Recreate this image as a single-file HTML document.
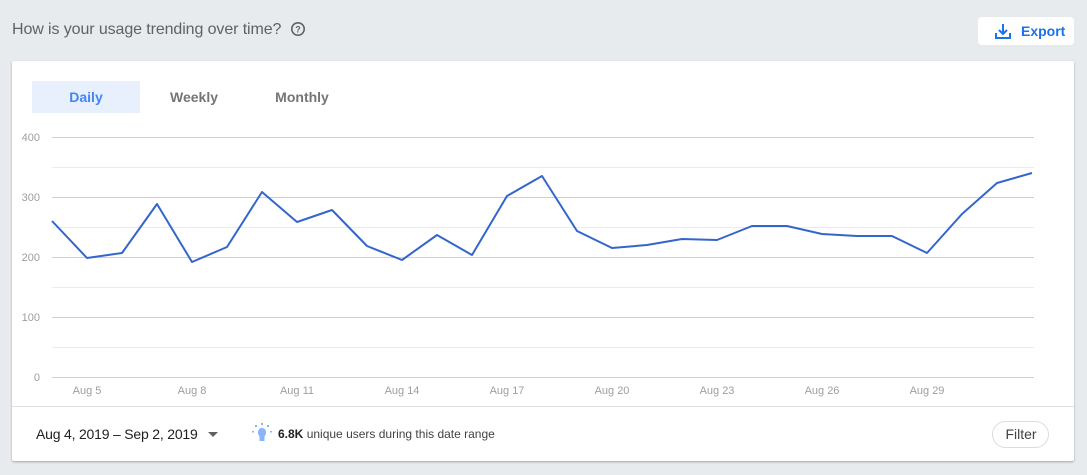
<!DOCTYPE html>
<html><head><style>
body{margin:0;width:1087px;height:475px;background:#e8ebee;font-family:"Liberation Sans",sans-serif;position:relative;overflow:hidden}
.t{position:absolute;left:12px;top:21px;font-size:16px;color:#616161;letter-spacing:-0.1px}
.exp{position:absolute;left:978px;top:17px;width:96px;height:28px;background:#fff;border-radius:4px;color:#1a73e8;font-size:14px;font-weight:bold}
.card{position:absolute;left:12px;top:61px;width:1062px;height:400px;background:#fff;border-radius:2px;box-shadow:0 1px 2px rgba(0,0,0,.3)}
.tab{position:absolute;top:81px;height:32px;line-height:32px;font-size:14px;font-weight:bold;color:#757575;text-align:center}
</style></head><body>
<div class="t">How is your usage trending over time?
<svg width="16" height="16" style="vertical-align:-3px;margin-left:4px" viewBox="0 0 16 16"><circle cx="8" cy="8" r="6.2" fill="none" stroke="#616161" stroke-width="1.6"/><text x="8" y="11.5" font-size="9" font-weight="bold" text-anchor="middle" fill="#616161" font-family="Liberation Sans">?</text></svg></div>
<div class="exp"><svg width="20" height="20" style="position:absolute;left:15px;top:4px" viewBox="0 0 20 20"><path d="M3 12v5h14v-5" fill="none" stroke="#1a73e8" stroke-width="2"/><path d="M10 3v10M6 9l4 4 4-4" fill="none" stroke="#1a73e8" stroke-width="2"/></svg><span style="position:absolute;left:43px;top:6px">Export</span></div>
<div class="card"></div>
<div class="tab" style="left:32px;width:108px;background:#e8f0fe;color:#4285f4">Daily</div>
<div class="tab" style="left:140px;width:108px">Weekly</div>
<div class="tab" style="left:248px;width:108px">Monthly</div>
<svg style="position:absolute;left:0;top:0" width="1087" height="475">
<g stroke="#ebebeb" stroke-width="1"><line x1="52" x2="1034" y1="167.5" y2="167.5"/><line x1="52" x2="1034" y1="227.5" y2="227.5"/><line x1="52" x2="1034" y1="287.5" y2="287.5"/><line x1="52" x2="1034" y1="347.5" y2="347.5"/></g>
<g stroke="#d0d0d0" stroke-width="1"><line x1="52" x2="1034" y1="137.5" y2="137.5"/><line x1="52" x2="1034" y1="197.5" y2="197.5"/><line x1="52" x2="1034" y1="257.5" y2="257.5"/><line x1="52" x2="1034" y1="317.5" y2="317.5"/><line x1="52" x2="1034" y1="377.5" y2="377.5"/></g>
<g font-size="11" fill="#9e9e9e" text-anchor="end" font-family="Liberation Sans"><text x="40" y="141">400</text><text x="40" y="201">300</text><text x="40" y="261">200</text><text x="40" y="321">100</text><text x="40" y="381">0</text></g>
<g font-size="11" fill="#9e9e9e" text-anchor="middle" font-family="Liberation Sans"><text x="87" y="394">Aug 5</text><text x="192" y="394">Aug 8</text><text x="297" y="394">Aug 11</text><text x="402" y="394">Aug 14</text><text x="507" y="394">Aug 17</text><text x="612" y="394">Aug 20</text><text x="717" y="394">Aug 23</text><text x="822" y="394">Aug 26</text><text x="927" y="394">Aug 29</text></g>
<polyline fill="none" stroke="#3366cc" stroke-width="2" stroke-linejoin="round" points="52,221 87,258 122,253 157,204 192,262 227,247 262,192 297,222 332,210 367,246 402,260 437,235 472,255 507,196 542,176 577,231 612,248 647,245 682,239 717,240 752,226 787,226 822,234 857,236 892,236 927,253 962,214 997,183 1032,173"/>
<line x1="12" x2="1074" y1="406.5" y2="406.5" stroke="#e0e0e0"/>
<path d="M208 432h10l-5 5z" fill="#616161"/>
<g fill="#8ab4f8"><rect x="258" y="428" width="8" height="9" rx="4"/><rect x="259.5" y="436" width="5" height="5"/><rect x="255" y="425" width="2" height="2"/><rect x="267" y="425" width="2" height="2"/><rect x="261" y="423" width="2" height="2"/><rect x="252" y="431" width="2" height="1.5"/><rect x="270" y="431" width="2" height="1.5"/></g>
<rect x="992.5" y="421.5" width="56" height="26" rx="13" fill="#fff" stroke="#dadce0"/>
</svg>
<div style="position:absolute;left:36px;top:426px;font-size:14px;letter-spacing:-0.2px;color:#212121">Aug 4, 2019 – Sep 2, 2019</div>
<div style="position:absolute;left:278px;top:427px;font-size:12px;color:#424242"><b style="color:#212121">6.8K</b> unique users during this date range</div>
<div style="position:absolute;left:992px;top:426px;width:58px;text-align:center;font-size:14px;color:#424242">Filter</div>
</body></html>
